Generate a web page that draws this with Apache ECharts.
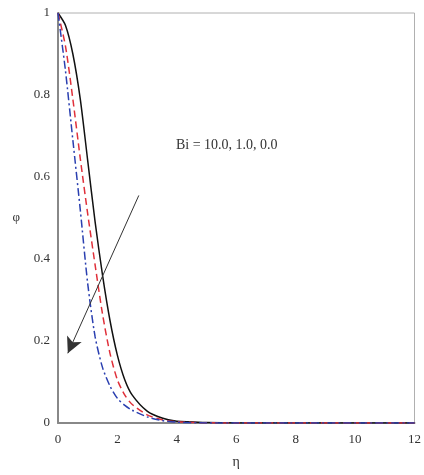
<!DOCTYPE html>
<html><head><meta charset="utf-8">
<script src="https://cdn.jsdelivr.net/npm/echarts@6/dist/echarts.min.js"></script>
<style>html,body{margin:0;padding:0;background:#fff}#c{width:424px;height:475px}</style>
</head><body><div id="c"></div>
<script>
var etaValues = [0, 0.25, 0.5, 0.75, 1.0, 1.25, 1.5, 1.75, 2.0, 2.25, 2.5, 3.0, 3.5, 4.0, 5.0, 6.0, 8.0, 10.0, 12.0];
var phiBi00 = [1, 0.97, 0.90, 0.79, 0.64, 0.49, 0.36, 0.25, 0.165, 0.105, 0.068, 0.029, 0.012, 0.004, 0.001, 0, 0, 0, 0];
var phiBi10 = [1, 0.92, 0.79, 0.645, 0.51, 0.385, 0.265, 0.17, 0.105, 0.068, 0.045, 0.02, 0.008, 0.003, 0.0005, 0, 0, 0, 0];
var phiBi100 = [1, 0.86, 0.69, 0.52, 0.34, 0.21, 0.135, 0.09, 0.06, 0.043, 0.031, 0.015, 0.006, 0.002, 0.0003, 0, 0, 0, 0];
var xTicks = [0, 2, 4, 6, 8, 10, 12];
var yTicks = [0, 0.2, 0.4, 0.6, 0.8, 1];
var annotationText = 'Bi = 10.0, 1.0, 0.0';
var arrowFrom = [2.72, 0.555];
var arrowTo = [0.33, 0.17];

function pairs(ys){ return etaValues.map(function(x,i){ return [x, ys[i]]; }); }

var font = "'Liberation Serif', 'DejaVu Serif', serif";
var chart = echarts.init(document.getElementById('c'));
chart.setOption({
  animation: false,
  backgroundColor: '#fff',
  grid: { left: 58, right: 8, top: 13, bottom: 52, show: true, borderColor: '#b0b0b0', borderWidth: 1 },
  xAxis: {
    type: 'value', min: xTicks[0], max: xTicks[xTicks.length-1], interval: 2,
    name: 'η', nameLocation: 'middle', nameGap: 32,
    nameTextStyle: { fontFamily: font, fontSize: 14, color: '#333' },
    axisLine: { lineStyle: { color: '#888', width: 2 } },
    axisTick: { show: false },
    axisLabel: { fontFamily: font, fontSize: 13, color: '#333', margin: 10 },
    splitLine: { show: false }
  },
  yAxis: {
    type: 'value', min: yTicks[0], max: yTicks[yTicks.length-1], interval: 0.2,
    name: 'φ', nameLocation: 'middle', nameGap: 38, nameRotate: 0,
    nameTextStyle: { fontFamily: font, fontSize: 13, color: '#333' },
    axisLine: { lineStyle: { color: '#888', width: 2 } },
    axisTick: { show: false },
    axisLabel: { fontFamily: font, fontSize: 13, color: '#333', margin: 8 },
    splitLine: { show: false }
  },
  series: [
    { type: 'line', name: 'Bi=0.0', data: pairs(phiBi00), smooth: 0.25, showSymbol: false,
      lineStyle: { color: '#111', width: 1.5, type: 'solid' },
      markLine: {
        silent: true, symbol: ['none', 'arrow'], symbolSize: [12, 16],
        lineStyle: { color: '#333', width: 1, type: 'solid' }, label: { show: false },
        data: [[{ coord: arrowFrom }, { coord: arrowTo }]]
      }
    },
    { type: 'line', name: 'Bi=1.0', data: pairs(phiBi10), smooth: 0.25, showSymbol: false,
      lineStyle: { color: '#e0303a', width: 1.5, type: [7, 4] } },
    { type: 'line', name: 'Bi=10.0', data: pairs(phiBi100), smooth: 0.25, showSymbol: false,
      lineStyle: { color: '#2a3fb0', width: 1.5, type: [8, 3, 2, 3] } }
  ],
  graphic: [
    { type: 'text', left: 176, top: 138, style: { text: annotationText, font: "14px " + font, fill: '#333' } }
  ]
});
</script></body></html>
